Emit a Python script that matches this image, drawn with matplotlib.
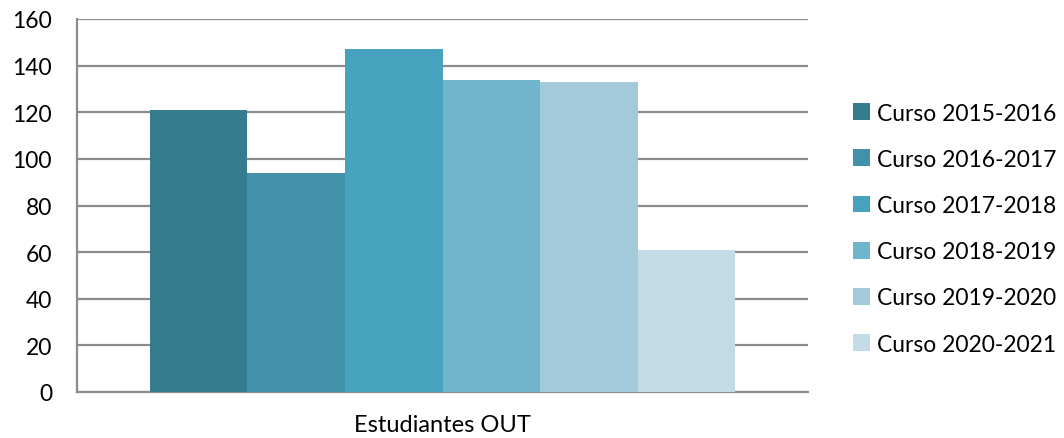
import matplotlib
matplotlib.use("Agg")
import matplotlib.pyplot as plt
import numpy as np

categories = ["Estudiantes OUT"]
series_labels = ["Curso 2015-2016", "Curso 2016-2017", "Curso 2017-2018",
                 "Curso 2018-2019", "Curso 2019-2020", "Curso 2020-2021"]
values = [121, 94, 147, 134, 133, 61]
colors = ["#357C8F", "#4191AA", "#47A3BD", "#71B5CC", "#A2CADA", "#C2DBE4"]
yticks = [0, 20, 40, 60, 80, 100, 120, 140, 160]

plt.rcParams['font.family'] = ['Lato', 'DejaVu Sans']

fig = plt.figure(figsize=(10.64, 4.39), dpi=100)
ax = fig.add_axes([77/1064, 46/439, (808-77)/1064, (393-20)/439])

n = len(values)
group_w = 0.8016
bw = group_w / n
x0 = 0.0
for i, (v, lab, c) in enumerate(zip(values, series_labels, colors)):
    xpos = x0 - group_w/2 + bw*(i+0.5)
    ax.bar(xpos, v, width=bw, color=c, label=lab, zorder=3, linewidth=0)

ax.set_xlim(-0.5, 0.5)
ax.set_ylim(0, 160)
ax.set_yticks(yticks)
ax.set_yticklabels([str(t) for t in yticks], fontsize=16.5, color="#000000")
ax.set_xticks([x0])
ax.set_xticklabels(categories, fontsize=17)
ax.tick_params(axis='both', length=0)
ax.tick_params(axis='y', pad=18)
ax.tick_params(axis='x', pad=16)
ax.yaxis.grid(True, color="#8C8C8C", linewidth=1.6, zorder=1)
for s in ["top", "right"]:
    ax.spines[s].set_visible(False)
for s in ["left", "bottom"]:
    ax.spines[s].set_color("#8C8C8C")
    ax.spines[s].set_linewidth(1.6)
ax.set_axisbelow(True)

leg = fig.legend(loc="center left", bbox_to_anchor=(853/1064, 0.477), frameon=False,
                 fontsize=16.5, handlelength=0.75, handleheight=0.75, handletextpad=0.28,
                 labelspacing=1.1, borderaxespad=0, borderpad=0)

fig.savefig("out.png", dpi=100)
